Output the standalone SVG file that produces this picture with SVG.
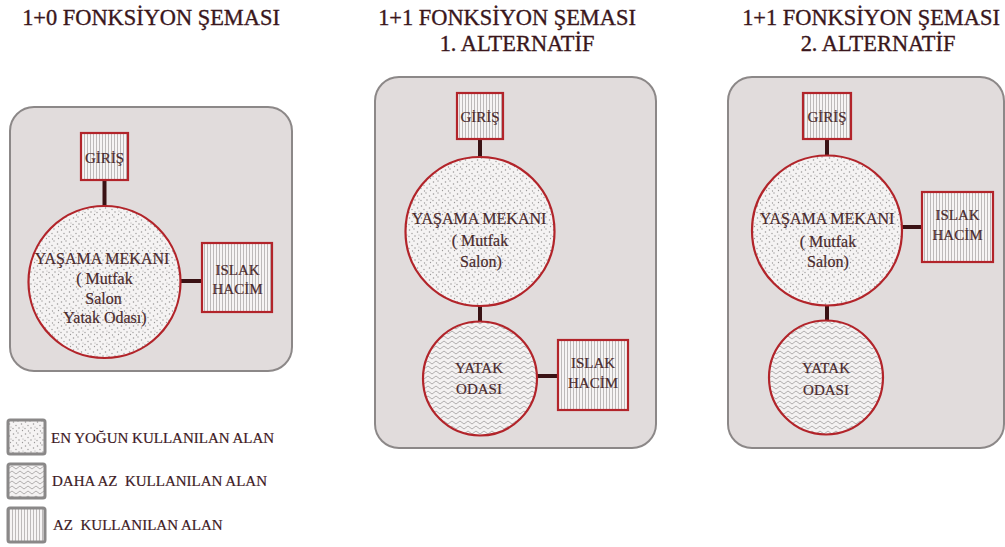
<svg xmlns="http://www.w3.org/2000/svg" width="1005" height="547" viewBox="0 0 1005 547">
  <style>
    .title { font-family: "Liberation Serif", "DejaVu Serif", serif; font-size: 22.4px; fill: #3a161b; stroke: #3a161b; stroke-width: 0.35; text-anchor: middle; }
    .lbl { font-family: "Liberation Serif", "DejaVu Serif", serif; font-size: 15px; fill: #4a2a2c; stroke: #4a2a2c; stroke-width: 0.2; text-anchor: middle; }
    .big { font-size: 16px; }
    .leg { font-family: "Liberation Serif", "DejaVu Serif", serif; font-size: 15px; fill: #3e1a1f; stroke: #3e1a1f; stroke-width: 0.2; white-space: pre; }
    .panel { fill: #e1dcdc; stroke: #8c8888; stroke-width: 2; }
    .node { stroke: #b2242a; stroke-width: 2.2; }
    .dots { fill: url(#dots); }
    .zig { fill: url(#zig); }
    .stripe { fill: url(#stripes); }
    .link { stroke: #3a1214; stroke-width: 4; fill: none; }
    .key { stroke: #8a8888; stroke-width: 3; }
  </style>
  <defs>
    <!-- speckled fill for the most used area -->
    <pattern id="dots" width="12" height="12" patternUnits="userSpaceOnUse">
      <rect width="12" height="12" fill="#f5f3f3"/>
      <g fill="#9a9898">
        <circle cx="1.5" cy="2" r="0.75"/>
        <circle cx="6" cy="1" r="0.65"/>
        <circle cx="9.5" cy="4" r="0.75"/>
        <circle cx="4" cy="5.5" r="0.65"/>
        <circle cx="1" cy="8.5" r="0.65"/>
        <circle cx="7" cy="8" r="0.75"/>
        <circle cx="10.5" cy="10.5" r="0.65"/>
        <circle cx="4.5" cy="11" r="0.65"/>
        <circle cx="11" cy="7" r="0.5"/>
      </g>
    </pattern>
    <!-- chevron fill for the less used area -->
    <pattern id="zig" width="8" height="5" patternUnits="userSpaceOnUse">
      <rect width="8" height="5" fill="#f4f2f2"/>
      <polyline points="0,4 4,1 8,4" fill="none" stroke="#a8a6a6" stroke-width="0.9"/>
    </pattern>
    <!-- vertical hatching for the least used area -->
    <pattern id="stripes" width="3" height="10" patternUnits="userSpaceOnUse">
      <rect width="3" height="10" fill="#f6f4f4"/>
      <rect x="0" width="1" height="10" fill="#bdbaba"/>
    </pattern>
  </defs>

  <!-- titles -->
  <text class="title" x="151" y="25">1+0 FONKSİYON ŞEMASI</text>
  <text class="title" x="507" y="25">1+1 FONKSİYON ŞEMASI</text>
  <text class="title" x="517" y="51">1. ALTERNATİF</text>
  <text class="title" x="871" y="25">1+1 FONKSİYON ŞEMASI</text>
  <text class="title" x="878" y="51">2. ALTERNATİF</text>

  <!-- panel backgrounds -->
  <rect class="panel" x="10" y="107" width="282" height="264" rx="24"/>
  <rect class="panel" x="375" y="77" width="281" height="371" rx="24"/>
  <rect class="panel" x="728" y="77" width="276" height="371" rx="24"/>

  <!-- connectors -->
  <g id="connectors">
    <line class="link" x1="104.5" y1="180" x2="104.5" y2="206"/>
    <line class="link" x1="180" y1="281" x2="201" y2="281"/>
    <line class="link" x1="480" y1="139" x2="480" y2="157"/>
    <line class="link" x1="480" y1="306" x2="480" y2="322"/>
    <line class="link" x1="537" y1="376" x2="558" y2="376"/>
    <line class="link" x1="827" y1="139" x2="827" y2="156"/>
    <line class="link" x1="827" y1="305" x2="827" y2="320"/>
    <line class="link" x1="901" y1="227" x2="922" y2="227"/>
  </g>

  <!-- 1+0 scheme -->
  <g id="p1-giris">
    <rect class="node stripe" x="81" y="133" width="47" height="47"/>
    <text class="lbl" x="104.5" y="163">GİRİŞ</text>
  </g>
  <g id="p1-yasama">
    <circle class="node dots" cx="104.5" cy="282" r="76"/>
    <text class="lbl big" x="102" y="264">YAŞAMA MEKANI</text>
    <text class="lbl big" x="104.5" y="284">( Mutfak</text>
    <text class="lbl big" x="103.5" y="304">Salon</text>
    <text class="lbl big" x="105" y="323">Yatak Odası)</text>
  </g>
  <g id="p1-islak">
    <rect class="node stripe" x="202" y="243" width="70" height="69"/>
    <text class="lbl" x="237.5" y="275">ISLAK</text>
    <text class="lbl" x="237.5" y="294">HACİM</text>
  </g>

  <!-- 1+1 scheme, alternative 1 -->
  <g id="p2-giris">
    <rect class="node stripe" x="457" y="93" width="46" height="46"/>
    <text class="lbl" x="480" y="122">GİRİŞ</text>
  </g>
  <g id="p2-yasama">
    <circle class="node dots" cx="480" cy="231.5" r="74.5"/>
    <text class="lbl big" x="479" y="224">YAŞAMA MEKANI</text>
    <text class="lbl big" x="480" y="246">( Mutfak</text>
    <text class="lbl big" x="481" y="267">Salon)</text>
  </g>
  <g id="p2-yatak">
    <circle class="node zig" cx="480" cy="378.5" r="57"/>
    <text class="lbl" x="479" y="373">YATAK</text>
    <text class="lbl" x="479" y="394">ODASI</text>
  </g>
  <g id="p2-islak">
    <rect class="node stripe" x="558" y="340" width="70" height="70"/>
    <text class="lbl" x="593" y="368">ISLAK</text>
    <text class="lbl" x="593" y="388">HACİM</text>
  </g>

  <!-- 1+1 scheme, alternative 2 -->
  <g id="p3-giris">
    <rect class="node stripe" x="803" y="93" width="48" height="46"/>
    <text class="lbl" x="827" y="122">GİRİŞ</text>
  </g>
  <g id="p3-yasama">
    <circle class="node dots" cx="827" cy="230.5" r="75"/>
    <text class="lbl big" x="827" y="224">YAŞAMA MEKANI</text>
    <text class="lbl big" x="828" y="247">( Mutfak</text>
    <text class="lbl big" x="828" y="267">Salon)</text>
  </g>
  <g id="p3-islak">
    <rect class="node stripe" x="922" y="192" width="71" height="70"/>
    <text class="lbl" x="957.5" y="220">ISLAK</text>
    <text class="lbl" x="957.5" y="240">HACİM</text>
  </g>
  <g id="p3-yatak">
    <circle class="node zig" cx="826" cy="377.5" r="57"/>
    <text class="lbl" x="826" y="373">YATAK</text>
    <text class="lbl" x="826" y="395">ODASI</text>
  </g>

  <!-- legend -->
  <g id="legend">
    <rect class="key dots" x="8" y="420" width="37" height="34" rx="2"/>
    <text class="leg" x="51" y="443">EN YOĞUN KULLANILAN ALAN</text>
    <rect class="key zig" x="8" y="464" width="37" height="34" rx="2"/>
    <text class="leg" x="52" y="486">DAHA AZ  KULLANILAN ALAN</text>
    <rect class="key stripe" x="8" y="508" width="37" height="34" rx="2"/>
    <text class="leg" x="53" y="530">AZ  KULLANILAN ALAN</text>
  </g>
</svg>
